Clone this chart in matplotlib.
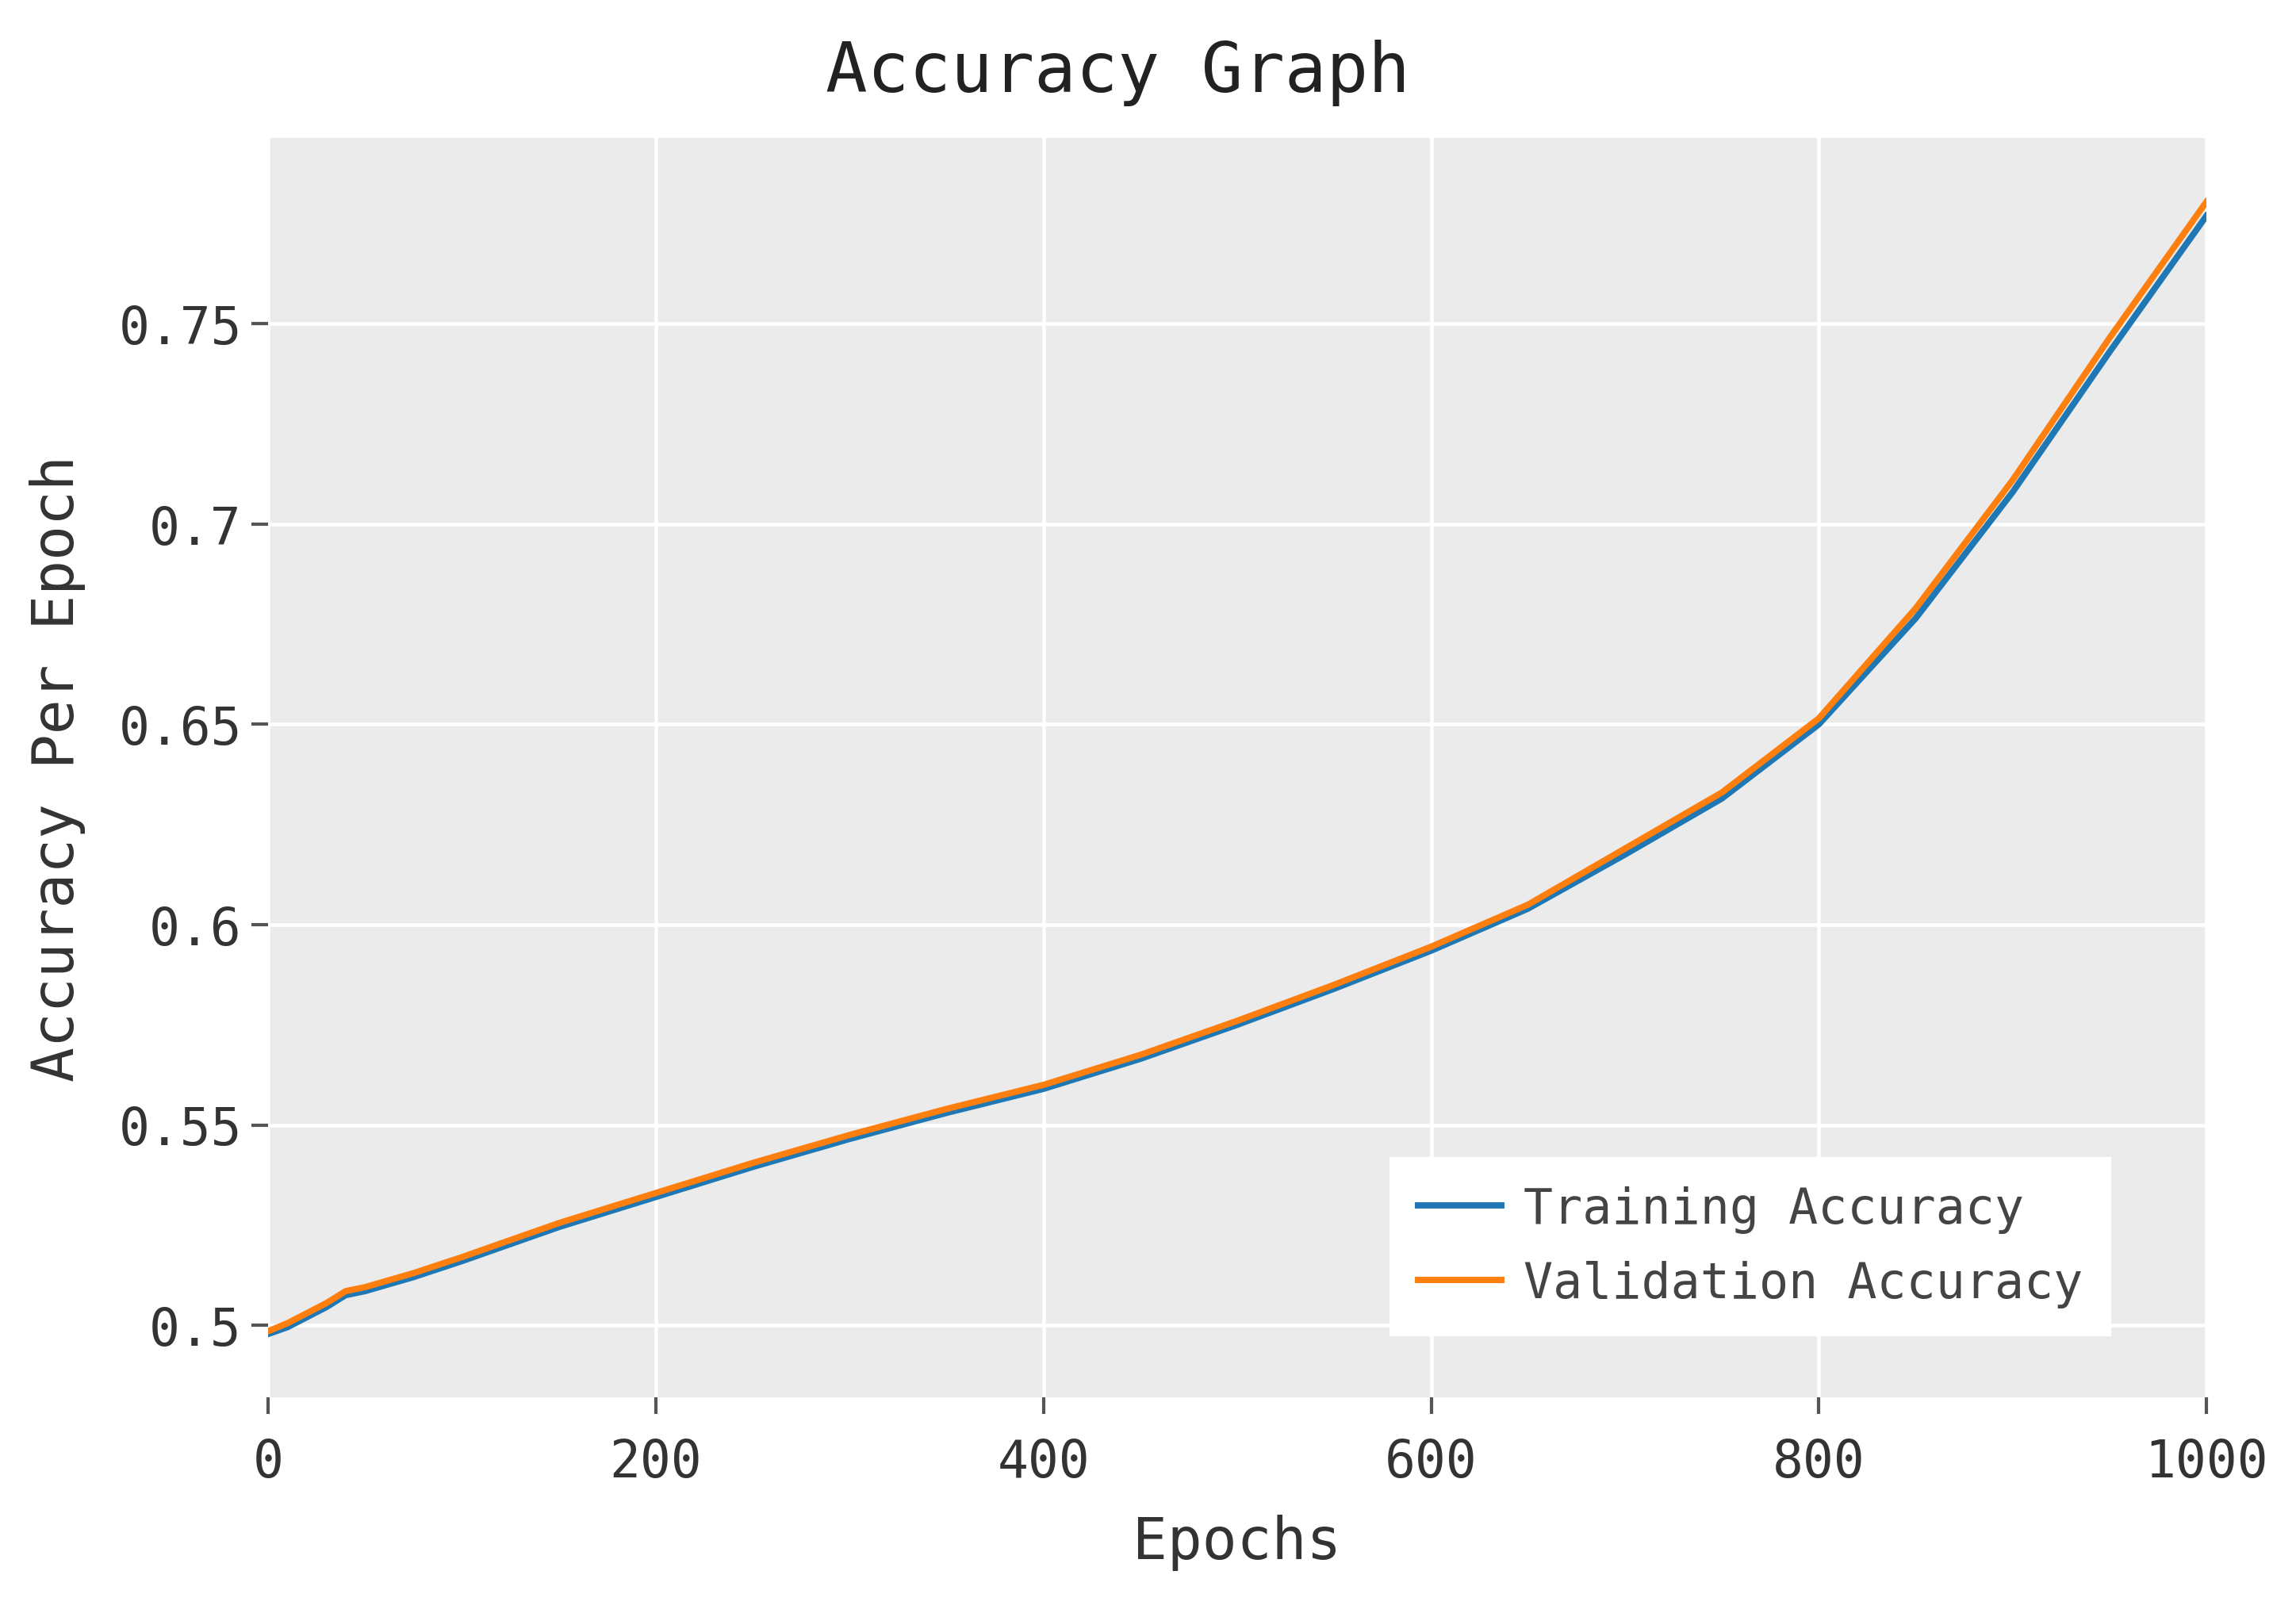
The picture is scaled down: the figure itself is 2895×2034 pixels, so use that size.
import matplotlib
matplotlib.use('Agg')
import matplotlib.pyplot as plt
from matplotlib.ticker import FuncFormatter

# values
epochs = [0, 10, 20, 30, 40, 50, 75, 100, 150, 200, 250, 300, 350, 400, 450,
          500, 550, 600, 650, 700, 750, 800, 850, 900, 950, 1000]
train_acc = [0.4978, 0.4995, 0.5020, 0.5045, 0.5075, 0.5085, 0.5120, 0.5160,
             0.5245, 0.5320, 0.5395, 0.5465, 0.5530, 0.5590, 0.5665, 0.5750,
             0.5840, 0.5935, 0.6040, 0.6175, 0.6315, 0.6500, 0.6765, 0.7080,
             0.7430, 0.7770]
val_acc = [0.4985, 0.5005, 0.5030, 0.5055, 0.5085, 0.5095, 0.5130, 0.5170,
           0.5255, 0.5330, 0.5405, 0.5475, 0.5540, 0.5600, 0.5675, 0.5760,
           0.5850, 0.5945, 0.6050, 0.6190, 0.6330, 0.6515, 0.6790, 0.7110,
           0.7465, 0.7805]

y_ticks = [0.5, 0.55, 0.6, 0.65, 0.7, 0.75]
x_ticks = [0, 200, 400, 600, 800, 1000]

plt.rcParams['font.family'] = ['DejaVu Sans Mono']

fig = plt.figure(figsize=(9.65, 6.783), dpi=300)
ax = fig.add_axes([0.1168, 0.1337, 0.961 - 0.1168, 0.914 - 0.1337])
ax.set_facecolor('#EBEBEB')
for s in ax.spines.values():
    s.set_visible(False)

ax.grid(True, color='white', linewidth=1.1)
ax.set_axisbelow(True)

ax.plot(epochs, train_acc, color='#1f77b4', linewidth=1.9, label='Training Accuracy')
ax.plot(epochs, val_acc, color='#ff7f0e', linewidth=1.9, label='Validation Accuracy')

ax.set_xlim(0, 1000)
ax.set_ylim(0.482, 0.7964)
ax.set_xticks(x_ticks)
ax.set_yticks(y_ticks)
ax.yaxis.set_major_formatter(FuncFormatter(lambda v, p: f'{v:g}'))
ax.tick_params(axis='both', colors='#555555', labelcolor='#333333',
               labelsize=15.5, length=5, width=1.0)
ax.tick_params(axis='x', pad=7)
ax.tick_params(axis='y', pad=3)

# title is centred on the figure, not the axes
fig.text(0.487, 0.955, 'Accuracy Graph', fontsize=21, color='#222222',
         ha='center', va='center')
ax.set_xlabel('Epochs', fontsize=17.5, color='#333333', labelpad=8)
ax.set_ylabel('Accuracy Per Epoch', fontsize=17.5, color='#333333', labelpad=10)

leg = ax.legend(loc='lower right', bbox_to_anchor=(0.95, 0.05), borderaxespad=0,
                fontsize=14.8, frameon=True, fancybox=False, framealpha=1,
                edgecolor='white', facecolor='white', handlelength=1.7,
                handletextpad=0.45, labelspacing=0.55, borderpad=0.55)
for t in leg.get_texts():
    t.set_color('#444444')

plt.savefig('out.png', dpi=300)
